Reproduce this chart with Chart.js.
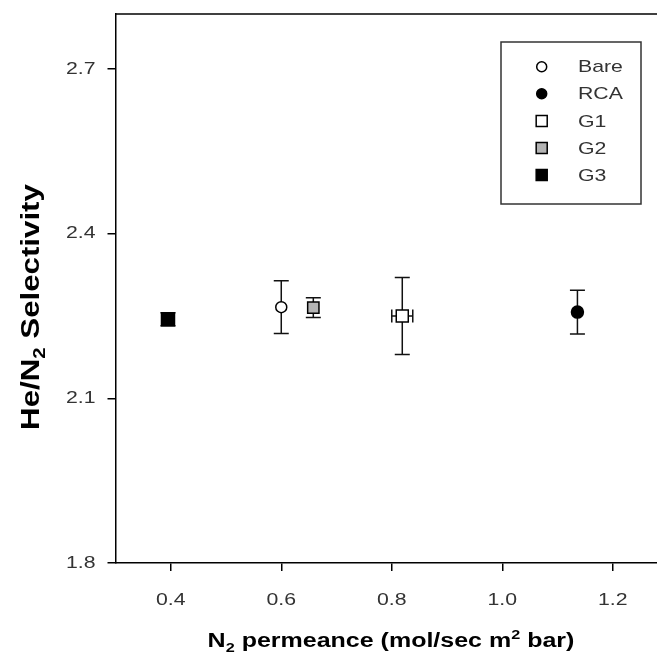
<!DOCTYPE html>
<html>
<head>
<meta charset="utf-8">
<script src="https://cdn.jsdelivr.net/npm/chart.js@4.4.1/dist/chart.umd.min.js"></script>
<style>
  html, body { margin: 0; padding: 0; background: #ffffff; }
  canvas { display: block; }
</style>
</head>
<body>
<canvas id="chart" width="657" height="663"></canvas>
<script>
// Membrane samples and their measured values
const samples        = ['Bare', 'RCA', 'G1', 'G2', 'G3'];
const permeance      = [0.600, 1.136, 0.819, 0.658, 0.395];   // N2 permeance
const permeanceErr   = [0, 0, 0.019, 0, 0];
const selectivity    = [2.266, 2.257, 2.250, 2.265, 2.244];   // He/N2 selectivity
const selectivityErr = [0.048, 0.040, 0.070, 0.018, 0.012];

const xTickValues = [0.4, 0.6, 0.8, 1.0, 1.2];
const yTickValues = [1.8, 2.1, 2.4, 2.7];

// Marker look for each sample
const markerStyles = {
  Bare: { pointStyle: 'circle', fill: '#ffffff', radius: 5.5 },
  RCA:  { pointStyle: 'circle', fill: '#000000', radius: 6 },
  G1:   { pointStyle: 'rect',   fill: '#ffffff', radius: 8.5 },
  G2:   { pointStyle: 'rect',   fill: '#b4b4b4', radius: 8 },
  G3:   { pointStyle: 'rect',   fill: '#000000', radius: 9.2 }
};

const FONT = '"Liberation Sans", Arial, Helvetica, sans-serif';
const TEXT_WIDEN = 1.25;   // wide lettering used throughout the figure

const canvas = document.getElementById('chart');
const ctx2d = canvas.getContext('2d');
const rawFillText = CanvasRenderingContext2D.prototype.fillText;
// every label is drawn widened along its writing direction, around its anchor point
ctx2d.fillText = function (text, x, y, maxWidth) {
  this.save();
  this.translate(x, y);
  this.scale(TEXT_WIDEN, 1);
  if (maxWidth === undefined) rawFillText.call(this, text, 0, 0);
  else rawFillText.call(this, text, 0, 0, maxWidth / TEXT_WIDEN);
  this.restore();
};

function drawMarker(ctx, style, x, y, radius) {
  ctx.save();
  ctx.fillStyle = style.fill;
  ctx.strokeStyle = '#000000';
  ctx.lineWidth = 1.5;
  ctx.beginPath();
  if (style.pointStyle === 'circle') {
    ctx.arc(x, y, radius, 0, Math.PI * 2);
  } else {
    const h = radius * Math.SQRT1_2;
    ctx.rect(x - h, y - h, h * 2, h * 2);
  }
  ctx.fill();
  ctx.stroke();
  ctx.restore();
}

// error bars sit behind the markers
const errorBars = {
  id: 'errorBars',
  beforeDatasetsDraw(chart) {
    const { ctx, scales: { x, y } } = chart;
    const cap = 7.5;
    ctx.save();
    ctx.strokeStyle = '#111111';
    ctx.lineWidth = 1.5;
    samples.forEach((name, i) => {
      const px = x.getPixelForValue(permeance[i]);
      const py = y.getPixelForValue(selectivity[i]);
      const top = y.getPixelForValue(selectivity[i] + selectivityErr[i]);
      const bot = y.getPixelForValue(selectivity[i] - selectivityErr[i]);
      ctx.beginPath();
      ctx.moveTo(px, top); ctx.lineTo(px, bot);
      ctx.moveTo(px - cap, top); ctx.lineTo(px + cap, top);
      ctx.moveTo(px - cap, bot); ctx.lineTo(px + cap, bot);
      if (permeanceErr[i] > 0) {
        const l = x.getPixelForValue(permeance[i] - permeanceErr[i]);
        const r = x.getPixelForValue(permeance[i] + permeanceErr[i]);
        const hc = 6.5;
        ctx.moveTo(l, py); ctx.lineTo(r, py);
        ctx.moveTo(l, py - hc); ctx.lineTo(l, py + hc);
        ctx.moveTo(r, py - hc); ctx.lineTo(r, py + hc);
      }
      ctx.stroke();
    });
    ctx.restore();
  }
};

// top frame line of the plotting area
const topFrame = {
  id: 'topFrame',
  afterDraw(chart) {
    const { ctx, chartArea: a } = chart;
    ctx.save();
    ctx.strokeStyle = '#000000';
    ctx.lineWidth = 1.5;
    ctx.beginPath();
    ctx.moveTo(a.left, a.top);
    ctx.lineTo(a.right, a.top);
    ctx.stroke();
    ctx.restore();
  }
};

// boxed legend in the upper right of the plot
const sampleLegend = {
  id: 'sampleLegend',
  afterDraw(chart) {
    const { ctx, chartArea: a } = chart;
    const left = a.right - 156, top = a.top + 28, w = 140, h = 162;
    ctx.save();
    ctx.strokeStyle = '#333333';
    ctx.lineWidth = 1.5;
    ctx.strokeRect(left, top, w, h);
    ctx.font = '17px ' + FONT;
    ctx.fillStyle = '#333333';
    ctx.textAlign = 'left';
    ctx.textBaseline = 'middle';
    samples.forEach((name, i) => {
      const cy = top + 24.7 + i * 27.1;
      const st = markerStyles[name];
      drawMarker(ctx, st, left + 40.7, cy, st.pointStyle === 'circle' ? 5 : 7.8);
      ctx.fillText(name, left + 77, cy + 1);
    });
    ctx.restore();
  }
};

// text with sub/superscript pieces, centred on cx
function drawRich(ctx, parts, cx, cy, size, widen) {
  const small = size * 0.65;
  let total = 0;
  parts.forEach(p => {
    ctx.font = 'bold ' + (p.shift ? small : size) + 'px ' + FONT;
    p.w = ctx.measureText(p.text).width * widen;
    total += p.w;
  });
  let x = cx - total / 2;
  parts.forEach(p => {
    ctx.font = 'bold ' + (p.shift ? small : size) + 'px ' + FONT;
    const dy = p.shift > 0 ? -size * 0.42 : (p.shift < 0 ? size * 0.24 : 0);
    ctx.fillText(p.text, x, cy + dy);
    x += p.w;
  });
}

const axisTitles = {
  id: 'axisTitles',
  afterDraw(chart) {
    const { ctx } = chart;
    ctx.save();
    ctx.fillStyle = '#000000';
    ctx.textAlign = 'left';
    ctx.textBaseline = 'alphabetic';
    drawRich(ctx, [
      { text: 'N' }, { text: '2', shift: -1 }, { text: ' permeance (mol/sec m' },
      { text: '2', shift: 1 }, { text: ' bar)' }
    ], 391, 647, 20, TEXT_WIDEN);
    ctx.restore();

    ctx.save();
    ctx.fillStyle = '#000000';
    ctx.textAlign = 'left';
    ctx.textBaseline = 'alphabetic';
    ctx.translate(39, 307);
    ctx.rotate(-Math.PI / 2);
    drawRich(ctx, [
      { text: 'He/N' }, { text: '2', shift: -1 }, { text: ' Selectivity' }
    ], 0, 0, 25, TEXT_WIDEN);
    ctx.restore();
  }
};

const datasets = samples.map((name, i) => {
  const st = markerStyles[name];
  return {
    label: name,
    data: [{ x: permeance[i], y: selectivity[i] }],
    pointStyle: st.pointStyle,
    pointRadius: st.radius,
    pointHoverRadius: st.radius,
    backgroundColor: st.fill,
    borderColor: '#000000',
    borderWidth: 1.5,
    showLine: false
  };
});

new Chart(ctx2d, {
  type: 'scatter',
  data: { datasets },
  options: {
    responsive: false,
    animation: false,
    devicePixelRatio: 1,
    layout: { autoPadding: false, padding: { top: 14, right: 0, bottom: 0, left: 0 } },
    plugins: {
      legend: { display: false },
      tooltip: { enabled: false }
    },
    scales: {
      x: {
        type: 'linear',
        min: 0.3,
        max: 1.28,
        afterBuildTicks: s => { s.ticks = xTickValues.map(v => ({ value: v })); },
        afterFit: s => { s.height = 100; s.paddingLeft = 0; s.paddingRight = 0; },
        ticks: {
          font: { family: FONT, size: 17 },
          color: '#333333',
          padding: 19,
          maxRotation: 0,
          callback: v => Number(v).toFixed(1)
        },
        grid: { drawOnChartArea: false, tickLength: 8, color: '#000000', lineWidth: 1.5 },
        border: { color: '#000000', width: 1.5 }
      },
      y: {
        type: 'linear',
        min: 1.8,
        max: 2.8,
        afterBuildTicks: s => { s.ticks = yTickValues.map(v => ({ value: v })); },
        afterFit: s => { s.width = 115.5; s.paddingTop = 0; s.paddingBottom = 0; },
        ticks: {
          font: { family: FONT, size: 17 },
          color: '#333333',
          padding: 12,
          callback: v => Number(v).toFixed(1)
        },
        grid: { drawOnChartArea: false, tickLength: 8, color: '#000000', lineWidth: 1.5 },
        border: { color: '#000000', width: 1.5 }
      }
    }
  },
  plugins: [errorBars, topFrame, sampleLegend, axisTitles]
});
</script>
</body>
</html>
